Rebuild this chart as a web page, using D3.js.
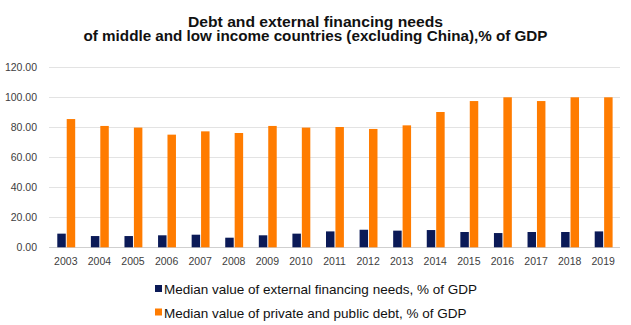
<!DOCTYPE html>
<html><head><meta charset="utf-8">
<script src="https://cdn.jsdelivr.net/npm/d3@7"></script>
<style>body{margin:0;background:#fff;} svg{display:block;}</style>
</head><body>
<svg id="chart" width="631" height="325"></svg>
<script>
const years = ["2003","2004","2005","2006","2007","2008","2009","2010","2011","2012","2013","2014","2015","2016","2017","2018","2019"];
const externalNeeds = [9.1,7.5,7.5,8.0,8.4,6.4,8.0,9.1,10.6,11.7,11.1,11.5,10.2,9.5,10.2,10.2,10.6];
const debt = [85.5,80.9,79.8,75.1,77.3,76.2,80.9,79.8,80.2,78.9,81.3,90.2,97.5,100,97.5,100,100];
const yTicks = [0,20,40,60,80,100,120];
const seriesNames = ["Median value of external financing needs, % of GDP","Median value of private and public debt, % of GDP"];
const titleLines = ["Debt and external financing needs","of middle and low income countries (excluding China),% of GDP"];

const colors = ["#0b1a57","#ff7c00"];
const svg = d3.select("#chart");
const m = {left:49, right:11};
const W = 631;
const x = d3.scaleBand().domain(years).range([m.left, W-m.right]).padding(0);
const y = d3.scaleLinear().domain([0,120]).range([247.3, 67.3]);

// title
const titleWidths = [255, 464];
svg.append("g").selectAll("text").data(titleLines).join("text")
  .attr("x",315.5).attr("y",(d,i)=>27+i*13.8)
  .attr("text-anchor","middle")
  .attr("font-family","Liberation Sans, Arial, sans-serif")
  .attr("font-size",14).attr("font-weight","bold").attr("fill","#111")
  .attr("textLength",(d,i)=>titleWidths[i]).attr("lengthAdjust","spacingAndGlyphs")
  .text(d=>d);

// gridlines
svg.append("g").selectAll("line").data(yTicks).join("line")
  .attr("x1",m.left).attr("x2",W-m.right)
  .attr("y1",d=>Math.round(y(d))+0.5).attr("y2",d=>Math.round(y(d))+0.5)
  .attr("stroke",d=>d===0?"#cfcfcf":"#e3e3e3").attr("stroke-width",1);

// y axis
const yAxis = d3.axisLeft(y).tickValues(yTicks).tickFormat(d3.format(".2f")).tickSize(0).tickPadding(0);
const yg = svg.append("g").attr("transform","translate(37,0)").call(yAxis);
yg.select(".domain").remove();
yg.selectAll("text").attr("font-family","Liberation Sans, Arial, sans-serif").attr("font-size",10.5).attr("fill","#404040");

// x axis
const xAxis = d3.axisBottom(x).tickSize(0).tickPadding(0);
const xg = svg.append("g").attr("transform","translate(0,258)").call(xAxis);
xg.select(".domain").remove();
xg.selectAll("text").attr("font-family","Liberation Sans, Arial, sans-serif").attr("font-size",10.5).attr("fill","#404040");

// bars
const inner = d3.scaleBand().domain([0,1]).range([-8.5, 9.4]).paddingInner(0.1);
const g = svg.append("g");
g.selectAll("rect.ext").data(years).join("rect").attr("class","ext")
  .attr("x",(d)=>x(d)+x.bandwidth()/2+inner(0)).attr("width",inner.bandwidth())
  .attr("y",(d,i)=>y(externalNeeds[i])).attr("height",(d,i)=>y(0)-y(externalNeeds[i]))
  .attr("fill",colors[0]);
g.selectAll("rect.debt").data(years).join("rect").attr("class","debt")
  .attr("x",(d)=>x(d)+x.bandwidth()/2+inner(1)).attr("width",inner.bandwidth())
  .attr("y",(d,i)=>y(debt[i])).attr("height",(d,i)=>y(0)-y(debt[i]))
  .attr("fill",colors[1]);

// legend
const lg = svg.append("g").selectAll("g").data(seriesNames).join("g")
  .attr("transform",(d,i)=>`translate(155,${289+i*23.5})`);
lg.append("rect").attr("x",0).attr("y",-4).attr("width",7).attr("height",7).attr("fill",(d,i)=>colors[i]);
lg.append("text").attr("x",9).attr("y",5).attr("font-family","Liberation Sans, Arial, sans-serif")
  .attr("font-size",13.5).attr("fill","#111").text(d=>d);
</script>
</body></html>
